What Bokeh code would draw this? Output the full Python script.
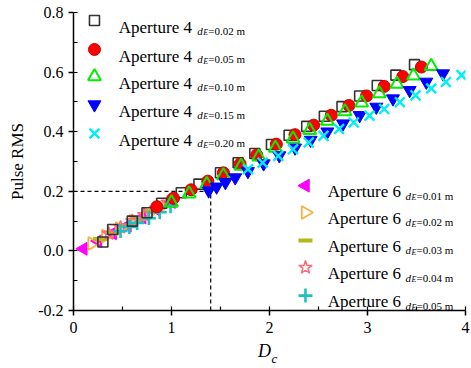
import math
from bokeh.plotting import figure
from bokeh.models import (SingleIntervalTicker, PrintfTickFormatter, Range1d, LinearAxis,
                          FixedTicker)
from bokeh.core.properties import value
from bokeh.embed import file_html
from bokeh.resources import INLINE

FONT = "Liberation Serif, serif"

# ---------------- data ----------------
# Aperture 4
a4_002_x = [0.30, 0.40, 0.60, 0.75, 0.90, 1.10, 1.28, 1.50, 1.68, 1.85, 2.02, 2.20, 2.38, 2.56, 2.74, 2.92, 3.10, 3.29, 3.48]
a4_002_y = [0.030, 0.072, 0.100, 0.128, 0.160, 0.195, 0.224, 0.262, 0.296, 0.327, 0.357, 0.388, 0.418, 0.452, 0.484, 0.520, 0.555, 0.590, 0.625]

a4_005_x = [0.85, 1.02, 1.20, 1.37, 1.53, 1.70, 1.87, 2.07, 2.26, 2.45, 2.63, 2.81, 2.99, 3.17, 3.36, 3.55]
a4_005_y = [0.148, 0.177, 0.205, 0.234, 0.262, 0.292, 0.322, 0.358, 0.390, 0.422, 0.455, 0.488, 0.520, 0.552, 0.585, 0.617]

a4_010_x = [1.00, 1.18, 1.36, 1.53, 1.71, 1.89, 2.06, 2.24, 2.41, 2.59, 2.77, 2.94, 3.12, 3.30, 3.47, 3.65]
a4_010_y = [0.162, 0.192, 0.224, 0.253, 0.285, 0.316, 0.345, 0.376, 0.405, 0.436, 0.468, 0.497, 0.528, 0.560, 0.588, 0.620]

a4_015_x = [1.38, 1.46, 1.55, 1.65, 1.78, 1.94, 2.10, 2.26, 2.42, 2.59, 2.75, 2.92, 3.09, 3.26, 3.43, 3.60, 3.77]
a4_015_y = [0.202, 0.215, 0.230, 0.246, 0.267, 0.293, 0.320, 0.346, 0.372, 0.400, 0.427, 0.455, 0.483, 0.511, 0.539, 0.567, 0.595]

a4_020_x = [1.78, 1.93, 2.09, 2.24, 2.40, 2.55, 2.71, 2.86, 3.02, 3.17, 3.33, 3.49, 3.65, 3.80, 3.96]
a4_020_y = [0.274, 0.296, 0.319, 0.341, 0.364, 0.386, 0.409, 0.431, 0.454, 0.476, 0.499, 0.522, 0.545, 0.567, 0.590]

# Aperture 6
a6_001_x = [0.10, 0.25, 0.40, 0.55, 0.70, 0.85, 1.00]
a6_001_y = [0.007, 0.033, 0.059, 0.085, 0.112, 0.138, 0.164]

a6_002_x = [0.19, 0.33, 0.47, 0.61, 0.75, 0.89]
a6_002_y = [0.025, 0.050, 0.074, 0.099, 0.123, 0.148]

a6_003_x = [0.27, 0.40, 0.53, 0.66, 0.80]
a6_003_y = [0.040, 0.062, 0.085, 0.108, 0.133]

a6_004_x = [0.36, 0.48, 0.60, 0.72, 0.84, 0.96]
a6_004_y = [0.058, 0.079, 0.100, 0.121, 0.142, 0.163]

a6_005_x = [0.48, 0.57, 0.65, 0.77, 0.88, 0.99]
a6_005_y = [0.067, 0.080, 0.094, 0.110, 0.130, 0.150]

# reference guide
ref_x = 1.4
ref_y = 0.2

# legend texts
leg4_label = "Aperture 4"
leg4_values = ["=0.02 m", "=0.05 m", "=0.10 m", "=0.15 m", "=0.20 m"]
leg6_label = "Aperture 6"
leg6_values = ["=0.01 m", "=0.02 m", "=0.03 m", "=0.04 m", "=0.05 m"]

x_title_main = "D"
x_title_sub = "c"

x_ticks_interval = 1
y_ticks_interval = 0.2

# ---------------- styles ----------------
styles4 = [
    dict(marker="square", size=10, fill_color=None, line_color="#333333", line_width=1.6, angle=0.0),
    dict(marker="circle", size=12, fill_color="#ff0000", line_color="#c80000", line_width=1.0, angle=0.0),
    dict(marker="triangle", size=13, fill_color=None, line_color="#00ee00", line_width=2.0, angle=0.0),
    dict(marker="inverted_triangle", size=13, fill_color="#0000ff", line_color="#0000ff", line_width=1.0, angle=0.0),
    dict(marker="x", size=14, fill_color=None, line_color="#00eef5", line_width=2.4, angle=0.0),
]
styles6 = [
    dict(marker="triangle", size=13, fill_color="#ff00ff", line_color="#ff00ff", line_width=1.0, angle=math.pi / 2),
    dict(marker="triangle", size=13, fill_color=None, line_color="#f0b445", line_width=1.8, angle=-math.pi / 2),
    dict(marker="dash", size=14, fill_color="#b4b818", line_color="#b4b818", line_width=4.0, angle=0.0),
    dict(marker="star", size=14, fill_color=None, line_color="#ff6a78", line_width=1.5, angle=0.0),
    dict(marker="cross", size=14, fill_color=None, line_color="#1ec0c0", line_width=2.6, angle=0.0),
]

series4 = [(a4_002_x, a4_002_y), (a4_005_x, a4_005_y), (a4_010_x, a4_010_y),
           (a4_015_x, a4_015_y), (a4_020_x, a4_020_y)]
series6 = [(a6_001_x, a6_001_y), (a6_002_x, a6_002_y), (a6_003_x, a6_003_y),
           (a6_004_x, a6_004_y), (a6_005_x, a6_005_y)]

p = figure(width=471, height=368, output_backend="svg", toolbar_location=None,
           x_range=Range1d(0, 4), y_range=Range1d(-0.2, 0.8),
           min_border_left=73, min_border_right=6, min_border_top=12, min_border_bottom=58)
p.grid.visible = False
p.outline_line_color = None
p.background_fill_color = "white"
p.border_fill_color = "white"

for ax, interval in ((p.xaxis[0], x_ticks_interval), (p.yaxis[0], y_ticks_interval)):
    ax.ticker = SingleIntervalTicker(interval=interval, num_minor_ticks=2)
    ax.major_tick_out = 5
    ax.major_tick_in = 0
    ax.minor_tick_in = 4
    ax.minor_tick_out = 0
    ax.axis_line_width = 1.5
    ax.axis_line_color = "black"
    ax.major_tick_line_width = 1.5
    ax.minor_tick_line_width = 1.2
    ax.major_tick_line_color = "black"
    ax.minor_tick_line_color = "black"
    ax.major_label_text_font = FONT
    ax.major_label_text_font_size = "16px"
    ax.major_label_text_color = "black"

p.xaxis.major_label_standoff = 6
p.yaxis.major_label_standoff = 5
p.yaxis.formatter = PrintfTickFormatter(format="%.1f")
p.yaxis.axis_label = "Pulse RMS"
p.yaxis.axis_label_text_font = FONT
p.yaxis.axis_label_text_font_style = "normal"
p.yaxis.axis_label_text_font_size = "17px"
p.yaxis.axis_label_text_color = "black"
p.yaxis.axis_label_standoff = 8

# x-axis title "D" with subscript "c", drawn as labels of two bare extra axes below
def title_axis(pos, txt, size, standoff):
    ax = LinearAxis(ticker=FixedTicker(ticks=[pos], minor_ticks=[]),
                    major_label_overrides={pos: txt},
                    axis_line_color=None, major_tick_line_color=None, minor_tick_line_color=None,
                    major_tick_out=0, major_tick_in=0, minor_tick_out=0, minor_tick_in=0,
                    major_label_standoff=standoff, major_label_text_font=FONT,
                    major_label_text_font_style="italic", major_label_text_font_size=size,
                    major_label_text_color="black")
    p.add_layout(ax, "below")

title_axis(1.95, x_title_main, "18px", 5)
title_axis(2.05, x_title_sub, "13px", -13)

# dashed guides
p.line([p.x_range.start, ref_x], [ref_y, ref_y], line_color="black", line_width=1.2, line_dash="4 3")
p.line([ref_x, ref_x], [p.y_range.start, ref_y], line_color="black", line_width=1.2, line_dash="4 3")

# data markers (aperture 6 first so aperture 4 is drawn on top where they overlap)
for (xs, ys), st in zip(series6, styles6):
    p.scatter(xs, ys, **st)
for (xs, ys), st in zip(series4, styles4):
    p.scatter(xs, ys, **st)

# ---------------- legends ----------------
def draw_legend(mx, tx, sx, rows, label, vals, styles, main_dy, sub_dy):
    for ry, v, st in zip(rows, vals, styles):
        p.scatter([mx], [ry], **st)
        p.text([tx], [ry], text=[label], text_font=value(FONT), text_font_size="17px",
               text_baseline="alphabetic", y_offset=main_dy, text_color="black")
        p.text([sx], [ry], text=["d"], text_font=value(FONT), text_font_style="italic",
               text_font_size="11px", text_baseline="alphabetic", y_offset=sub_dy, text_color="black")
        p.text([sx], [ry], text=["E"], text_font=value(FONT), text_font_style="italic",
               text_font_size="8px", text_baseline="alphabetic", x_offset=6, y_offset=sub_dy + 2,
               text_color="black")
        p.text([sx], [ry], text=[v], text_font=value(FONT),
               text_font_size="11px", text_baseline="alphabetic", x_offset=11, y_offset=sub_dy,
               text_color="black")

leg4_rows = [0.773, 0.676, 0.585, 0.491, 0.394]
leg6_rows = [0.219, 0.129, 0.035, -0.056, -0.150]
draw_legend(0.214, 0.462, 1.262, leg4_rows, leg4_label, leg4_values, styles4, 7, 10)
draw_legend(2.367, 2.595, 3.388, leg6_rows, leg6_label, leg6_values, styles6, 6, 10)

open("out.html", "w").write(file_html(p, INLINE))
